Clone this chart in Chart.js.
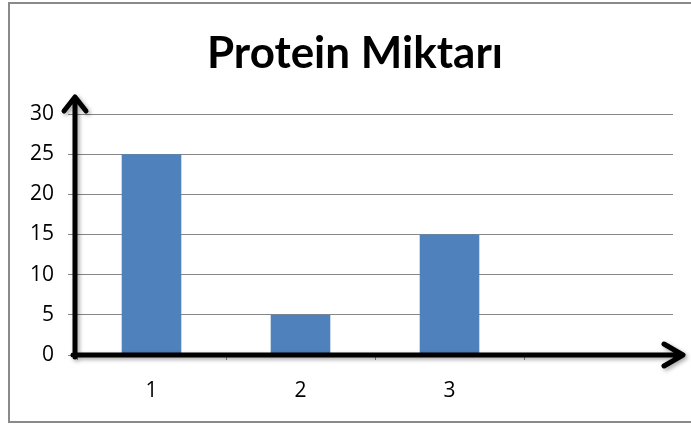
<!DOCTYPE html>
<html lang="tr">
<head>
    <meta charset="UTF-8">
    <title>Protein Miktarı</title>
    <script src="https://cdn.jsdelivr.net/npm/chart.js@4/dist/chart.umd.min.js"></script>
    <style>
      html, body { margin: 0; padding: 0; background: #fff; }
      .chart-container { position: relative; width: 691px; height: 425px; }
    </style>
    <script>
      const title = 'Protein Miktarı'
      const labels = ['1', '2', '3', '']
      const values = [25, 5, 15, null]
      const yTicks = [0, 5, 10, 15, 20, 25, 30]

      // frame, title and the two arrow axes
      const decor = {
        id: 'decor',
        beforeDraw(chart) {
          const c = chart.ctx
          c.save()
          c.fillStyle = '#fff'
          c.fillRect(0, 0, chart.width, chart.height)
          c.strokeStyle = '#8a8a8a'
          c.lineWidth = 2
          c.strokeRect(9, 3, 700, 419)
          c.restore()
        },
        afterDatasetsDraw(chart) {
          const c = chart.ctx
          const x0 = chart.scales.x.left - 2
          const y0 = chart.scales.y.getPixelForValue(0)
          c.save()
          c.shadowColor = 'rgba(0,0,0,0.35)'
          c.shadowBlur = 4
          c.shadowOffsetX = 2
          c.shadowOffsetY = 2
          c.strokeStyle = '#000'
          c.lineWidth = 5
          c.lineCap = 'round'
          c.lineJoin = 'round'
          // y axis
          c.beginPath()
          c.moveTo(x0, y0 + 2)
          c.lineTo(x0, 98)
          c.moveTo(x0 - 11, 111)
          c.lineTo(x0, 97)
          c.lineTo(x0 + 11, 111)
          // x axis
          c.moveTo(x0 - 2, y0)
          c.lineTo(682, y0)
          c.moveTo(664, y0 - 11)
          c.lineTo(683, y0)
          c.lineTo(664, y0 + 11)
          c.stroke()
          c.restore()

          c.save()
          c.fillStyle = '#000'
          c.font = 'bold 44px Lato'
          c.textBaseline = 'alphabetic'
          const w = c.measureText(title).width
          const sx = Math.min(1, 296 / w)
          c.translate(355, 68)
          c.scale(sx, 1)
          c.textAlign = 'center'
          c.fillText(title, 0, 0)
          c.restore()
        }
      }

      window.onload = function() {
        const ctx = document.getElementById('chart').getContext('2d')

        new Chart(ctx, {
          type: 'bar',
          data: {
            labels: labels,
            datasets: [{
              data: values,
              backgroundColor: '#4f81bd',
              borderWidth: 0,
              categoryPercentage: 1,
              barPercentage: 0.4
            }]
          },
          options: {
            responsive: true,
            maintainAspectRatio: false,
            animation: false,
            layout: { padding: { top: 114, right: 18, bottom: 0, left: 0 } },
            plugins: {
              legend: { display: false },
              tooltip: { enabled: false },
              title: { display: false }
            },
            scales: {
              x: {
                grid: {
                  drawOnChartArea: false,
                  drawTicks: true,
                  tickLength: 5,
                  color: '#868686'
                },
                border: { display: false },
                ticks: {
                  color: '#000',
                  padding: 18,
                  font: { family: 'Open Sans', size: 21 }
                },
                afterFit(scale) { scale.height = 70 }
              },
              y: {
                min: 0,
                max: 30,
                afterBuildTicks(scale) { scale.ticks = yTicks.map(v => ({ value: v })) },
                grid: {
                  color: '#868686',
                  tickLength: 9
                },
                border: { display: false },
                ticks: {
                  color: '#000',
                  padding: 14,
                  font: { family: 'Open Sans', size: 21 }
                },
                afterFit(scale) { scale.width = 77 }
              }
            }
          },
          plugins: [decor]
        })
      }
    </script>
</head>
<body>
<div class="chart-container">
    <canvas id="chart"></canvas>
</div>
</body>
</html>
